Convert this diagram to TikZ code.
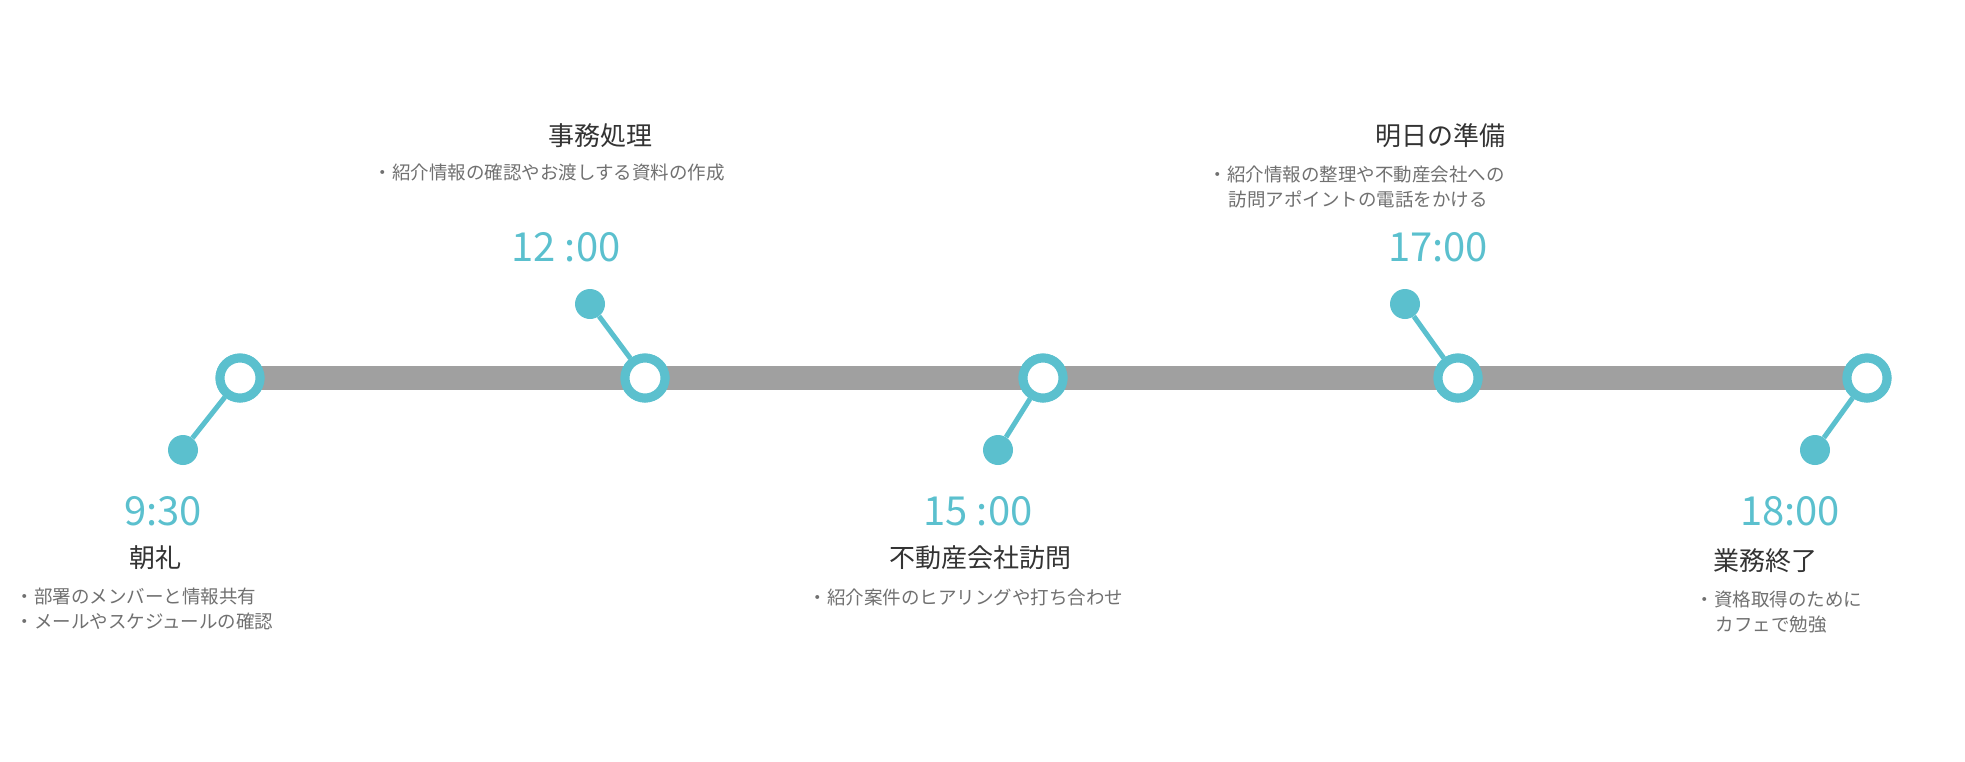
\documentclass[tikz,border=0pt]{standalone}
\usepackage{fontspec}
\setmainfont{Noto Sans CJK JP}
\definecolor{teal}{HTML}{5BC0CE}
\definecolor{bar}{HTML}{A0A0A0}
\definecolor{txt}{HTML}{333333}
\definecolor{sub}{HTML}{707070}
\begin{document}
\begin{tikzpicture}[x=1pt,y=-1pt,
  ring/.style={circle,draw=teal,line width=9pt,fill=white,minimum size=40pt,inner sep=0},
  dot/.style={circle,fill=teal,minimum size=30pt,inner sep=0},
  stem/.style={draw=teal,line width=5pt},
  time/.style={text=teal,font=\fontsize{40}{44}\selectfont},
  ttl/.style={text=txt,font=\fontsize{26}{30}\selectfont},
  desc/.style={text=sub,font=\fontsize{18.5}{25}\selectfont,align=left,anchor=west}]
\useasboundingbox (0,0) rectangle (1965,761);
\coordinate (s) at (240,378); \coordinate (e) at (1867,378);
\draw[bar,line width=24pt] (s) -- (e);
\node[dot] (d1) at (183,450) {};
\node[dot] (d2) at (590,304) {};
\node[dot] (d3) at (998,450) {};
\node[dot] (d4) at (1405,304) {};
\node[dot] (d5) at (1815,450) {};
\node[ring] (r1) at (240,378) {};
\node[ring] (r2) at (645,378) {};
\node[ring] (r3) at (1043,378) {};
\node[ring] (r4) at (1458,378) {};
\node[ring] (r5) at (1867,378) {};
\foreach \i in {1,...,5}{\path[stem] (d\i) -- (r\i);}
\foreach \i in {1,...,5}{\node[ring] at (r\i) {};}
\node[time] (t1) at (163,511) {9:30};
\node[time] (t2) at (566,247) {12 :00};
\node[time] (t3) at (978,511) {15 :00};
\node[time] (t4) at (1438,247) {17:00};
\node[time] (t5) at (1790,511) {18:00};
\node[ttl] (a1) at (155,558) {朝礼};
\node[ttl] (a2) at (600,136) {事務処理};
\node[ttl] (a3) at (980,558) {不動産会社訪問};
\node[ttl] (a4) at (1440,136) {明日の準備};
\node[ttl] (a5) at (1765,561) {業務終了};
\node[desc] (b1) at (12,609) {・部署のメンバーと情報共有\\・メールやスケジュールの確認};
\node[desc] (b2) at (370,173) {・紹介情報の確認やお渡しする資料の作成};
\node[desc] (b3) at (805,597) {・紹介案件のヒアリングや打ち合わせ};
\node[desc] (b4) at (1205,187) {・紹介情報の整理や不動産会社への\\\hspace*{1.1em}訪問アポイントの電話をかける};
\node[desc] (b5) at (1692,612) {・資格取得のために\\\hspace*{1.1em}カフェで勉強};
\end{tikzpicture}
\end{document}
